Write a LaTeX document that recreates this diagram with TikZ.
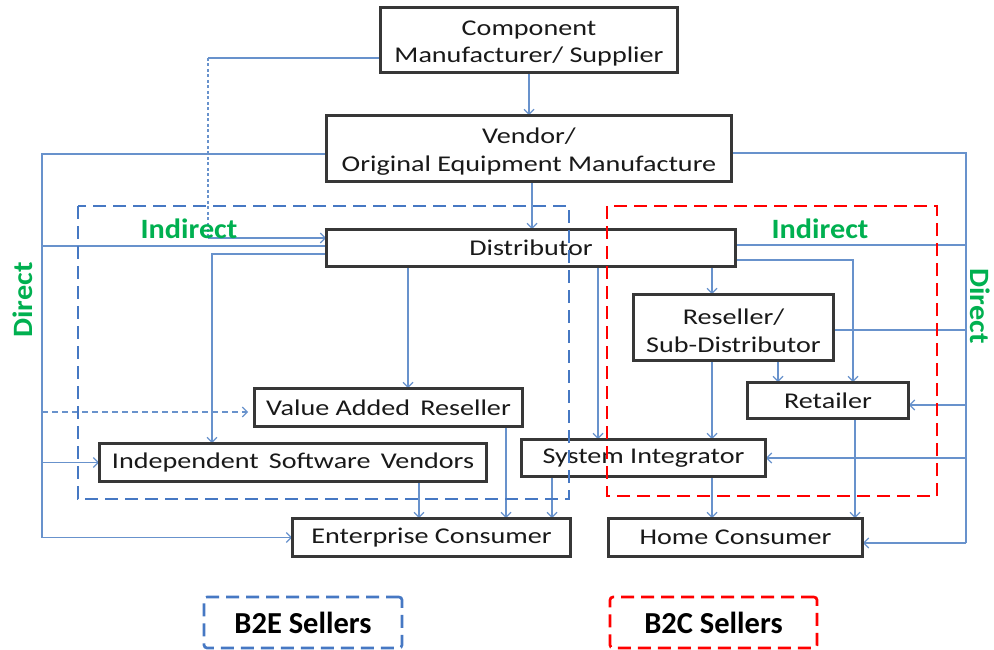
\documentclass[tikz,border=0pt]{standalone}
\usepackage{fontspec}
\setmainfont{Carlito}
\newfontfamily\boxfont{Carlito}[FakeStretch=1.25]
\newfontfamily\labelfont{Carlito}[FakeStretch=1.08]
\usetikzlibrary{arrows.meta,shadows}
\definecolor{flowblue}{RGB}{104,146,204}
\definecolor{edgegray}{RGB}{55,55,55}
\definecolor{zoneblue}{RGB}{70,120,195}
\definecolor{zonered}{RGB}{255,0,0}
\definecolor{labelgreen}{RGB}{0,176,80}
\definecolor{textdark}{RGB}{25,25,25}
% taller first line, so two-line captions sit a little lower in their boxes
\newcommand{\lowerstrut}{\rule{0pt}{22pt}}
\tikzset{
  flow/.style={draw=flowblue, line width=1.3pt},
  tip/.style={-{Straight Barb[length=5pt,width=10pt,line width=1.2pt]}},
  unit/.style={draw=edgegray, fill=white, line width=1.8pt, inner sep=0pt,
    align=center, text=textdark,
    font=\boxfont\fontsize{22.5}{27.5}\selectfont,
    drop shadow={opacity=0.18, shadow xshift=1.2pt, shadow yshift=-1.2pt}},
  zone/.style={line width=2.7pt, dash pattern=on 13pt off 7pt},
  legendbox/.style={zone, rounded corners=3pt, inner sep=0pt,
    font=\bfseries\fontsize{30.5}{33}\selectfont, text=black},
  tag/.style={text=labelgreen, font=\labelfont\bfseries\fontsize{28}{30}\selectfont, inner sep=0pt}
}
\begin{document}
\begin{tikzpicture}[x=1pt,y=-1pt]
\useasboundingbox (0,0) rectangle (994,650);

% ---------- entities ----------
\node[unit, minimum width=296pt, minimum height=64pt] (comp) at (529,40)
  {\lowerstrut Component\\Manufacturer/ Supplier};
\node[unit, minimum width=404pt, minimum height=65pt] (vendor) at (529,148.5)
  {\lowerstrut Vendor/\\Original Equipment Manufacture};
\node[unit, minimum width=408pt, minimum height=36pt] (dist) at (531,248) {Distributor};
\node[unit, minimum width=199pt, minimum height=65pt] (resel) at (733.5,327.5)
  {\lowerstrut Reseller/\\Sub-Distributor};
\node[unit, minimum width=267pt, minimum height=37pt] (var) at (388.5,407.5) {Value Added\, Reseller};
\node[unit, minimum width=160pt, minimum height=35pt] (retail) at (828,400.5) {Retailer};
\node[unit, minimum width=386pt, minimum height=37pt] (isv) at (293,462.5) {Independent\, Software\, Vendors};
\node[unit, minimum width=243pt, minimum height=36pt] (si) at (643.5,458) {System Integrator};
\node[unit, minimum width=277pt, minimum height=37pt] (ent) at (431.5,537.5) {Enterprise Consumer};
\node[unit, minimum width=253pt, minimum height=37pt] (home) at (735.5,537.5) {Home Consumer};

% ---------- corner points of the routed connectors ----------
\coordinate (cA) at (208,58);
\coordinate (cB) at (208,238);
\coordinate (dLt) at (42,154);
\coordinate (dLb) at (42,537.5);
\coordinate (dL1) at (42,246);
\coordinate (dL2) at (42,412);
\coordinate (dL3) at (42,462.5);
\coordinate (kI) at (212,254);
\coordinate (dRt) at (966,153);
\coordinate (dRb) at (966,543);
\coordinate (dR1) at (966,245);
\coordinate (dR2) at (966,330);
\coordinate (dR3) at (966,405);
\coordinate (dR4) at (966,458);
\coordinate (kR) at (853,260);

% supplier straight to the distributor (indirect)
\draw[flow] (comp.west |- cA) -- (cA);
\draw[flow, dash pattern=on 3pt off 2.5pt] (cA) -- (cB);
\draw[flow, tip] (cB) -- (cB -| dist.west);

% direct channel on the left
\draw[flow] (vendor.west |- dLt) -- (dLt) -- (dLb);
\draw[flow, tip] (dLb) -- (ent.west);
\draw[flow] (dL1) -- (dL1 -| dist.west);
\draw[flow, tip, dash pattern=on 6pt off 4pt, shorten >=6pt] (dL2) -- (dL2 -| var.west);
\draw[flow, tip] (dL3) -- (isv.west);

% direct channel on the right
\draw[flow] (vendor.east |- dRt) -- (dRt) -- (dRb);
\draw[flow, tip] (dRb) -- (dRb -| home.east);
\draw[flow] (dR1) -- (dR1 -| dist.east);
\draw[flow] (dR2) -- (dR2 -| resel.east);
\draw[flow, tip] (dR3) -- (dR3 -| retail.east);
\draw[flow, tip] (dR4) -- (si.east);

% supply chain
\draw[flow, tip] (comp.south) -- (vendor.north);
\draw[flow, tip] (vendor.south -| 532,0) -- (dist.north -| 532,0);
\draw[flow, tip] (dist.west |- kI) -- (kI) -- (kI |- isv.north);
\draw[flow, tip] (dist.east |- kR) -- (kR) -- (kR |- retail.north);
\draw[flow, tip] (dist.south -| 408,0) -- (var.north -| 408,0);
\draw[flow, tip] (dist.south -| 598,0) -- (si.north -| 598,0);
\draw[flow, tip] (dist.south -| 712,0) -- (resel.north -| 712,0);
\draw[flow, tip] (resel.south -| 778,0) -- (retail.north -| 778,0);
\draw[flow, tip] (resel.south -| 712,0) -- (si.north -| 712,0);
\draw[flow, tip] (retail.south -| 855,0) -- (home.north -| 855,0);
\draw[flow, tip] (si.south -| 712,0) -- (home.north -| 712,0);
\draw[flow, tip] (var.south -| 506,0) -- (ent.north -| 506,0);
\draw[flow, tip] (isv.south -| 419,0) -- (ent.north -| 419,0);
\draw[flow, tip] (si.south -| 552,0) -- (ent.north -| 552,0);

% box outlines over the connector ends
\foreach \n in {comp,vendor,dist,resel,var,retail,isv,si,ent,home}{
  \draw[draw=edgegray, line width=1.8pt] (\n.north west) rectangle (\n.south east);
}

% ---------- seller zones ----------
\draw[zone, draw=zoneblue] (78,206) rectangle (569,499);
\draw[zone, draw=zonered] (607,206) rectangle (937,496);

% ---------- labels ----------
\node[tag] (indL) at (189,229) {Indirect};
\node[tag] (indR) at (820,229) {Indirect};
\node[tag, rotate=90] (dirL) at (23,300) {Direct};
\node[tag, rotate=-90] (dirR) at (980,306) {Direct};

% ---------- legend ----------
\node[legendbox, draw=zoneblue, minimum width=198pt, minimum height=51pt] (b2e) at (303,622.5) {B2E Sellers};
\node[legendbox, draw=zonered, minimum width=207pt, minimum height=51pt] (b2c) at (713.5,622.5) {B2C Sellers};
\end{tikzpicture}
\end{document}
